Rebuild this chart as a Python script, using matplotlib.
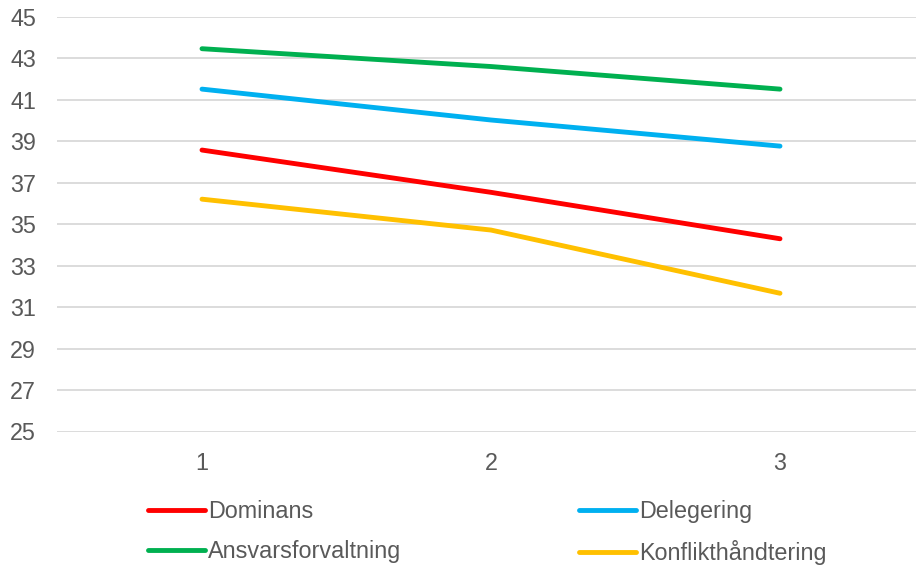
import matplotlib
matplotlib.use("Agg")
import matplotlib.pyplot as plt

plt.rcParams['font.family'] = ['Liberation Sans', 'DejaVu Sans']

categories = [1, 2, 3]
dominans = [38.58, 36.54, 34.30]
delegering = [41.52, 40.03, 38.77]
ansvar = [43.47, 42.61, 41.52]
konflikt = [36.21, 34.72, 31.67]

series = [
    ("Dominans", dominans, "#FF0000"),
    ("Ansvarsforvaltning", ansvar, "#00B050"),
    ("Delegering", delegering, "#00B0F0"),
    ("Konflikthåndtering", konflikt, "#FFC000"),
]
yticks = list(range(25, 46, 2))

fig = plt.figure(figsize=(9.16, 5.69), dpi=100)
ax = fig.add_axes([57.5/916, 1-431.5/569, 867/916, (431.5-17)/569])

handles = []
for name, vals, col in series:
    h, = ax.plot(categories, vals, color=col, lw=3.5, solid_capstyle='round',
                 solid_joinstyle='round', label=name, zorder=3)
    handles.append(h)

ax.set_xlim(0.5, 3.5)
ax.set_ylim(25, 45)
ax.set_yticks(yticks)
ax.set_xticks(categories)
ax.grid(axis='y', color='#d9d9d9', lw=1.3)
ax.set_axisbelow(True)
for s in ax.spines.values():
    s.set_visible(False)
ax.tick_params(axis='both', length=0, labelsize=16.8, colors='#595959')
ax.tick_params(axis='y', pad=15.5)
ax.tick_params(axis='x', pad=14.5)

leg = fig.legend(handles=handles, labels=[s[0] for s in series], ncol=2,
                 loc='upper left', bbox_to_anchor=(148/916, 1-500/569),
                 frameon=False, fontsize=16.8, handlelength=2.45,
                 handletextpad=0.13, columnspacing=7.6, labelspacing=0.72,
                 borderpad=0, borderaxespad=0)
for t in leg.get_texts():
    t.set_color('#595959')

fig.savefig("out.png", dpi=100)
